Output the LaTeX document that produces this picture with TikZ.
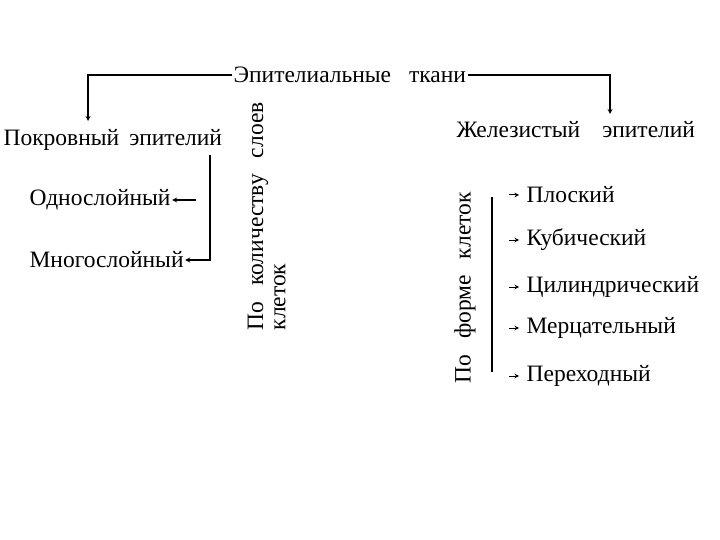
\documentclass[tikz,border=0pt]{standalone}
\usepackage{fontspec}
\setmainfont{Liberation Serif}
\usetikzlibrary{positioning}
\newcommand{\wsp}[1]{\hspace{#1pt}}

\begin{document}
\begin{tikzpicture}[x=1pt,y=-1pt,>=stealth,line width=1.2pt,
  every node/.style={font=\fontsize{23.5}{26}\selectfont,inner sep=1pt}]
\useasboundingbox (0,0) rectangle (720,540);
\node[anchor=west] (tkani) at (232,75) {Эпителиальные\wsp{18}ткани};
\node[anchor=west] (pokr) at (2,140) {Покровный\wsp{10}эпителий};
\node[anchor=west] (zhel) at (455,130) {Железистый\wsp{22}эпителий};
\node[anchor=west] (odno) at (28,200) {Однослойный};
\node[anchor=west] (mnogo) at (28,260) {Многослойный};
\node[anchor=west,rotate=90] (posloi) at (258,332) {По\wsp{16}количеству\wsp{16}слоев};
\node[anchor=west,rotate=90] (posloib) at (280,332) {клеток};
\node[anchor=west,rotate=90] (poforme) at (465,385) {По\wsp{16}форме\wsp{16}клеток};
\node[anchor=west] (plos) at (525,195) {Плоский};
\node[anchor=west] (kub) at (525,240) {Кубический};
\node[anchor=west] (cil) at (525,287) {Цилиндрический};
\node[anchor=west] (merc) at (525,328) {Мерцательный};
\node[anchor=west] (pere) at (525,376) {Переходный};
%
\coordinate (lt) at (88,121);
\coordinate (rt) at (610,114);
\coordinate (pv) at (210,155);
\draw[->] (tkani.west) -| (lt);
\draw[->] (tkani.east) -| (rt);
\draw[->] (pv) |- (mnogo.east);
\draw[->] ([xshift=24pt]odno.east) -- (odno.east);
\draw (492,197) -- (492,372);
\foreach \n in {plos,kub,cil,merc,pere}
  \draw[->,line width=1pt] ([xshift=-16pt]\n.west) -- ([xshift=-6pt]\n.west);
\end{tikzpicture}
\end{document}
